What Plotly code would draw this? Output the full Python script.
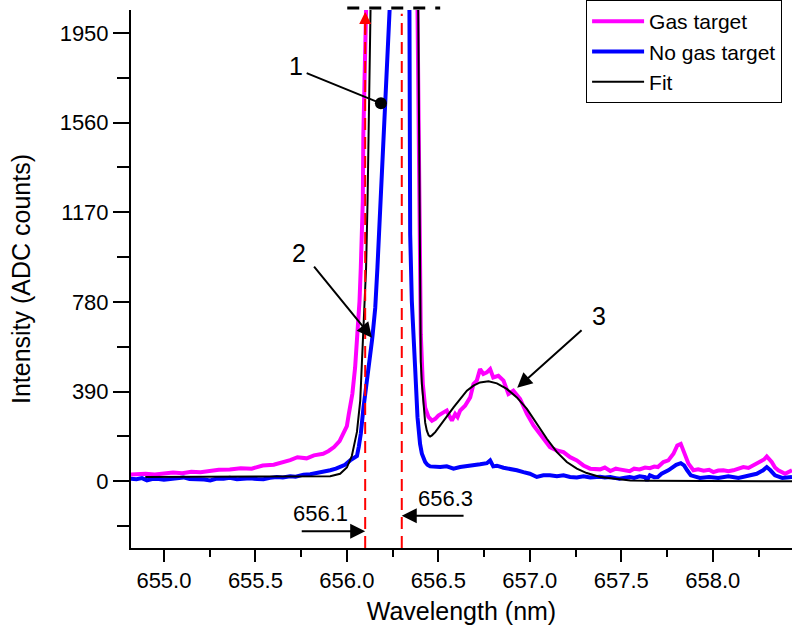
import plotly.graph_objects as go

# ---------------- data ----------------
gas_x = [654.816, 654.85, 654.90, 654.95, 655.00, 655.05, 655.10, 655.15, 655.20, 655.25,
         655.30, 655.36, 655.42, 655.48, 655.54, 655.60, 655.64, 655.69, 655.73, 655.78,
         655.82, 655.87, 655.90, 655.93, 655.96, 655.98, 656.00, 656.01, 656.03, 656.045,
         656.058, 656.069, 656.076, 656.082, 656.087, 656.09, 656.095, 656.10, 656.12, 656.20,
         656.37, 656.386, 656.392, 656.397, 656.404, 656.415, 656.428, 656.446, 656.465, 656.483,
         656.50, 656.528, 656.546, 656.56, 656.574, 656.592, 656.605, 656.619, 656.646, 656.674,
         656.692, 656.71, 656.728, 656.746, 656.765, 656.783, 656.80, 656.828, 656.856, 656.883,
         656.91, 656.947, 656.984, 657.02, 657.047, 657.074, 657.11, 657.148, 657.184, 657.22,
         657.257, 657.293, 657.33, 657.384, 657.41, 657.44, 657.47, 657.49, 657.52, 657.546,
         657.57, 657.60, 657.63, 657.656, 657.68, 657.70, 657.73, 657.757, 657.785, 657.806,
         657.825, 657.843, 657.867, 657.894, 657.92, 657.95, 657.98, 658.003, 658.03, 658.058,
         658.085, 658.112, 658.14, 658.167, 658.195, 658.222, 658.258, 658.28, 658.295, 658.322,
         658.34, 658.358, 658.395, 658.433]
gas_y = [29, 31, 33, 30, 36, 38, 35, 42, 40, 46,
         50, 51, 57, 55, 69, 72, 79, 92, 105, 100,
         113, 120, 132, 149, 175, 205, 240, 290, 381, 495,
         640, 784, 929, 1073, 1218, 1508, 1795, 2100, 2600, 3000,
         2600, 2050, 1500, 1073, 640, 424, 320, 280, 264, 272,
         286, 300, 308, 285, 264, 293, 280, 308, 329, 365,
         423, 438, 488, 467, 474, 488, 452, 459, 438, 380,
         394, 358, 293, 243, 214, 185, 149, 134, 127, 105,
         91, 69, 55, 52, 60, 45, 55, 52, 48, 44,
         55, 52, 60, 57, 64, 62, 84, 91, 120, 156,
         163, 127, 77, 48, 52, 46, 50, 40, 47, 48,
         44, 48, 55, 62, 58, 69, 84, 95, 108, 84,
         60, 48, 33, 48]

nogas_x = [654.816, 654.85, 654.88, 654.907, 654.935, 654.962, 655.00, 655.034, 655.07, 655.107,
           655.14, 655.18, 655.22, 655.253, 655.29, 655.326, 655.36, 655.399, 655.44, 655.472,
           655.51, 655.544, 655.58, 655.617, 655.65, 655.69, 655.72, 655.763, 655.80, 655.836,
           655.87, 655.909, 655.94, 655.963, 655.99, 656.018, 656.04, 656.055, 656.065, 656.076,
           656.091, 656.109, 656.124, 656.137, 656.141, 656.145, 656.155, 656.167, 656.173, 656.182,
           656.191, 656.20, 656.209, 656.219, 656.227, 656.24, 656.29, 656.335, 656.342, 656.346,
           656.355, 656.373, 656.386, 656.40, 656.41, 656.428, 656.44, 656.455, 656.48, 656.51,
           656.546, 656.583, 656.619, 656.656, 656.692, 656.728, 656.765, 656.783, 656.80, 656.82,
           656.856, 656.892, 656.929, 656.965, 657.00, 657.038, 657.074, 657.11, 657.148, 657.184,
           657.22, 657.257, 657.293, 657.33, 657.384, 657.41, 657.44, 657.47, 657.49, 657.52,
           657.546, 657.57, 657.60, 657.63, 657.64, 657.656, 657.68, 657.70, 657.72, 657.757,
           657.78, 657.80, 657.825, 657.843, 657.86, 657.88, 657.93, 657.98, 658.03, 658.085,
           658.14, 658.195, 658.24, 658.275, 658.295, 658.315, 658.34, 658.38, 658.433]
nogas_y = [12, 9, 14, 4, 10, 11, 7, 9, 14, 17,
           10, 11, 8, 4, 12, 11, 15, 9, 13, 13,
           10, 9, 15, 19, 17, 22, 20, 29, 31, 36,
           40, 48, 55, 62, 72, 91, 100, 110, 150, 207,
           322, 423, 524, 611, 640, 669, 754, 929, 1044, 1200,
           1335, 1550, 1700, 1850, 2041, 2500, 3000, 2500, 2041, 1073,
           784, 495, 279, 163, 120, 84, 72, 65, 62, 62,
           65, 55, 62, 65, 69, 74, 79, 91, 65, 68,
           59, 55, 48, 40, 33, 19, 26, 26, 22, 26,
           19, 17, 22, 17, 20, 17, 19, 14, 11, 16,
           19, 15, 22, 18, 4, 26, 18, 19, 33, 48,
           60, 72, 79, 69, 48, 26, 15, 19, 15, 22,
           15, 26, 33, 48, 62, 48, 26, 15, 19]

fit_x = [654.898, 655.2, 655.5, 655.8, 655.909, 655.963, 656.00, 656.027, 656.055, 656.073,
         656.082, 656.091, 656.10, 656.105, 656.113, 656.118, 656.124, 656.127, 656.14, 656.25,
         656.37, 656.39, 656.394, 656.397, 656.401, 656.404, 656.41, 656.419, 656.428, 656.437,
         656.447, 656.455, 656.465, 656.483, 656.51, 656.546, 656.583, 656.619, 656.656, 656.692,
         656.728, 656.774, 656.82, 656.874, 656.929, 656.984, 657.038, 657.093, 657.148, 657.202,
         657.257, 657.311, 657.384, 657.457, 657.493, 657.55, 657.65, 657.8, 658.0, 658.433]
fit_y = [19, 19, 19, 20, 22, 33, 60, 110, 215, 351,
         495, 640, 784, 929, 1218, 1508, 1795, 2041, 2600, 3200,
         2600, 2041, 1500, 1000, 700, 520, 424, 320, 255, 220,
         200, 195, 200, 214, 243, 286, 322, 358, 394, 416,
         430, 435, 426, 402, 365, 315, 250, 185, 127, 84,
         55, 36, 19, 12, 7, 4, 2, 1, 0, 0]

series_names = ["Gas target", "No gas target", "Fit"]
y_ticks = [0, 390, 780, 1170, 1560, 1950]
x_ticks = [655.0, 655.5, 656.0, 656.5, 657.0, 657.5, 658.0]
marker_lines = [656.1, 656.3]
marker_labels = ["656.1", "656.3"]
peak_labels = ["1", "2", "3"]

# ---------------- figure ----------------
FONT = "Liberation Sans, Arial, sans-serif"
fig = go.Figure()
fig.add_trace(go.Scatter(x=gas_x, y=gas_y, mode="lines", name=series_names[0],
                         line=dict(color="#FF00FF", width=4)))
fig.add_trace(go.Scatter(x=nogas_x, y=nogas_y, mode="lines", name=series_names[1],
                         line=dict(color="#0000FF", width=4)))
fig.add_trace(go.Scatter(x=fit_x, y=fit_y, mode="lines", name=series_names[2],
                         line=dict(color="black", width=2)))

# red dashed reference lines
for xv in marker_lines:
    fig.add_shape(type="line", xref="x", yref="paper", x0=xv, x1=xv, y0=0, y1=0.993,
                  line=dict(color="#FF0000", width=2, dash="12px,7px"), layer="above")

# black dashed fragment above the plot top
fig.add_shape(type="line", xref="x", yref="paper", x0=656.002, x1=656.51, y0=1.0037, y1=1.0037,
              line=dict(color="black", width=3, dash="12px,10px"))

# red arrowhead at the top of the 656.1 line
fig.add_annotation(x=656.1, y=2041, ax=656.1, ay=1940, xref="x", yref="y", axref="x", ayref="y",
                   text="", showarrow=True, arrowhead=2, arrowsize=1.2, arrowwidth=2,
                   arrowcolor="#FF0000")

arrows = [
    # (head x, head y, tail x, tail y, arrowhead, size)
    (656.186, 1644, 655.772, 1778, 6, 1.5),
    (656.137, 625, 655.814, 940, 2, 1.5),
    (656.931, 407, 657.291, 663, 2, 1.5),
    (656.10, -217, 655.745, -217, 2, 1.5),
    (656.30, -150, 656.646, -150, 2, 1.5),
]
for hx, hy, tx, ty, head, size in arrows:
    fig.add_annotation(x=hx, y=hy, ax=tx, ay=ty, xref="x", yref="y", axref="x", ayref="y",
                       text="", showarrow=True, arrowhead=head, arrowsize=size, arrowwidth=2,
                       arrowcolor="black")

texts = [
    (655.723, 1807, peak_labels[0], 25),
    (655.739, 992, peak_labels[1], 25),
    (657.378, 719, peak_labels[2], 25),
    (655.855, -139, marker_labels[0], 22),
    (656.537, -74, marker_labels[1], 22),
]
for tx, ty, t, fs in texts:
    fig.add_annotation(x=tx, y=ty, xref="x", yref="y", text=t, showarrow=False,
                       font=dict(family=FONT, size=fs, color="black"))

fig.update_layout(
    width=792, height=637,
    margin=dict(l=131, r=0, t=8, b=89),
    paper_bgcolor="white", plot_bgcolor="white",
    font=dict(family=FONT, color="black"),
    showlegend=True,
    legend=dict(x=0.985, y=1.0185, xanchor="right", yanchor="top",
                bgcolor="white", bordercolor="black", borderwidth=1,
                font=dict(family=FONT, size=21, color="black"),
                itemwidth=52, tracegroupgap=0),
)
fig.update_xaxes(range=[654.82, 658.433], tickvals=x_ticks, tickformat=".1f", automargin=False,
                 ticks="outside", ticklen=12, tickwidth=1.5, tickcolor="black",
                 minor=dict(dtick=0.25, tick0=655.0, ticks="outside", ticklen=7,
                            tickwidth=1.5, tickcolor="black"),
                 showline=True, linecolor="black", linewidth=2, showgrid=False, zeroline=False,
                 tickfont=dict(family=FONT, size=22),
                 title=dict(text="Wavelength (nm)", font=dict(family=FONT, size=25), standoff=10))
fig.update_yaxes(range=[-290, 2050], tickvals=y_ticks, automargin=False,
                 ticks="outside", ticklen=16, tickwidth=1.5, tickcolor="black",
                 minor=dict(dtick=195, tick0=0, ticks="outside", ticklen=12,
                            tickwidth=1.5, tickcolor="black"),
                 showline=True, linecolor="black", linewidth=2, showgrid=False, zeroline=False,
                 tickfont=dict(family=FONT, size=22),
                 title=dict(text="Intensity (ADC counts)", font=dict(family=FONT, size=25), standoff=22))

fig.write_html("out.html", config={"displayModeBar": False},
               post_script="document.body.style.margin='0px';")
